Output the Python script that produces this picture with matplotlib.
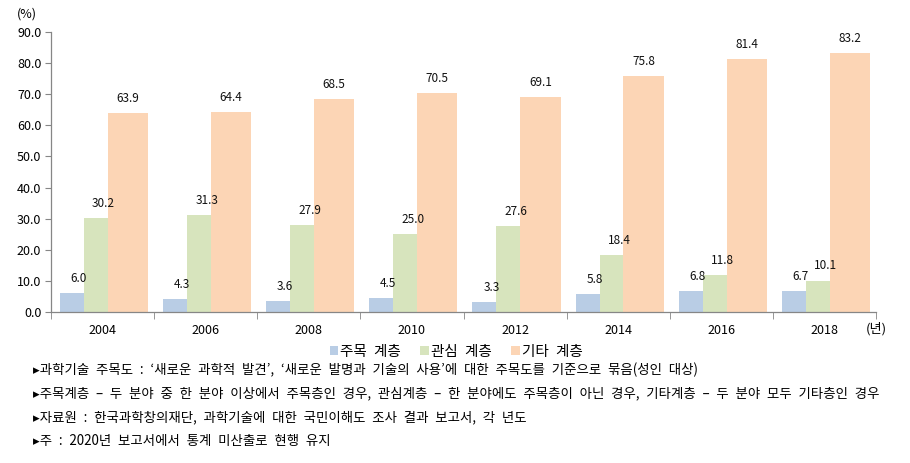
import numpy as np
import matplotlib
matplotlib.use('Agg')
import matplotlib.pyplot as plt
from matplotlib.ticker import FormatStrFormatter, FixedLocator

plt.rcParams['font.family'] = ['Noto Sans CJK KR', 'DejaVu Sans']

years = ['2004', '2006', '2008', '2010', '2012', '2014', '2016', '2018']
focus = [6.0, 4.3, 3.6, 4.5, 3.3, 5.8, 6.8, 6.7]
interest = [30.2, 31.3, 27.9, 25.0, 27.6, 18.4, 11.8, 10.1]
other = [63.9, 64.4, 68.5, 70.5, 69.1, 75.8, 81.4, 83.2]
series_names = ['주목 계층', '관심 계층', '기타 계층']
notes = [
    "과학기술 주목도 : ‘새로운 과학적 발견’, ‘새로운 발명과 기술의 사용’에 대한 주목도를 기준으로 묶음(성인 대상)",
    "주목계층 – 두 분야 중 한 분야 이상에서 주목층인 경우, 관심계층 – 한 분야에도 주목층이 아닌 경우, 기타계층 – 두 분야 모두 기타층인 경우",
    "자료원 : 한국과학창의재단, 과학기술에 대한 국민이해도 조사 결과 보고서, 각 년도",
    "주 : 2020년 보고서에서 통계 미산출로 현행 유지",
]

c_blue = '#B9CDE5'
c_green = '#D7E4BD'
c_orange = '#FCD5B5'
grey = '#868686'

fig = plt.figure(figsize=(9.1, 4.63), dpi=100)
ax = fig.add_axes([51/910, 1 - 312/463, 825/910, 280/463])

x = np.arange(len(years))
w_small = 0.232
w_big = 0.39
start = x - 0.413
b1 = ax.bar(start + w_small/2, focus, w_small, color=c_blue, label=series_names[0])
b2 = ax.bar(start + w_small*1.5, interest, w_small, color=c_green, label=series_names[1])
b3 = ax.bar(start + 2*w_small + w_big/2, other, w_big, color=c_orange, label=series_names[2])

for bars, dx in [(b1, 5), (b2, 5.5), (b3, 0)]:
    for b in bars:
        h = b.get_height()
        ax.annotate(f'{h:.1f}', (b.get_x() + b.get_width()/2, h),
                    xytext=(dx, 10.5), textcoords='offset points',
                    ha='center', va='center', fontsize=8.5, color='#111111')

ax.set_xlim(-0.5, len(years) - 0.5)
ax.set_ylim(0, 90)
ax.set_yticks(np.arange(0, 91, 10))
ax.yaxis.set_major_formatter(FormatStrFormatter('%.1f'))
ax.set_xticks(x)
ax.set_xticklabels(years)
ax.xaxis.set_minor_locator(FixedLocator(np.arange(-0.5, len(years), 1)))
ax.tick_params(axis='x', which='major', length=0, pad=9, labelsize=9)
ax.tick_params(axis='x', which='minor', length=5, color=grey)
ax.tick_params(axis='y', length=4, color=grey, labelsize=9, pad=3)

for s in ['top', 'right']:
    ax.spines[s].set_visible(False)
for s in ['left', 'bottom']:
    ax.spines[s].set_color(grey)
    ax.spines[s].set_linewidth(0.9)

fig.text(27/910, 1 - 14/463, '(%)', ha='center', va='center', fontsize=9)
fig.text(876/910, 1 - 329/463, '(년)', ha='center', va='center', fontsize=9.5)

wide = '\u2002'
fig.legend(handles=[b1, b2, b3], labels=[n.replace(' ', wide) for n in series_names],
           loc='center', bbox_to_anchor=(456/910, 1 - 352/463),
           ncol=3, frameon=False, fontsize=10.5, handlelength=0.6, handleheight=0.6,
           handletextpad=0.15, columnspacing=1.3, borderaxespad=0)

for i, note in enumerate(notes):
    fig.text(33/910, 1 - (370 + i*23.7)/463, '▸' + note.replace(' ', wide),
             ha='left', va='center', fontsize=9.65)

fig.savefig('out.png', dpi=100)
